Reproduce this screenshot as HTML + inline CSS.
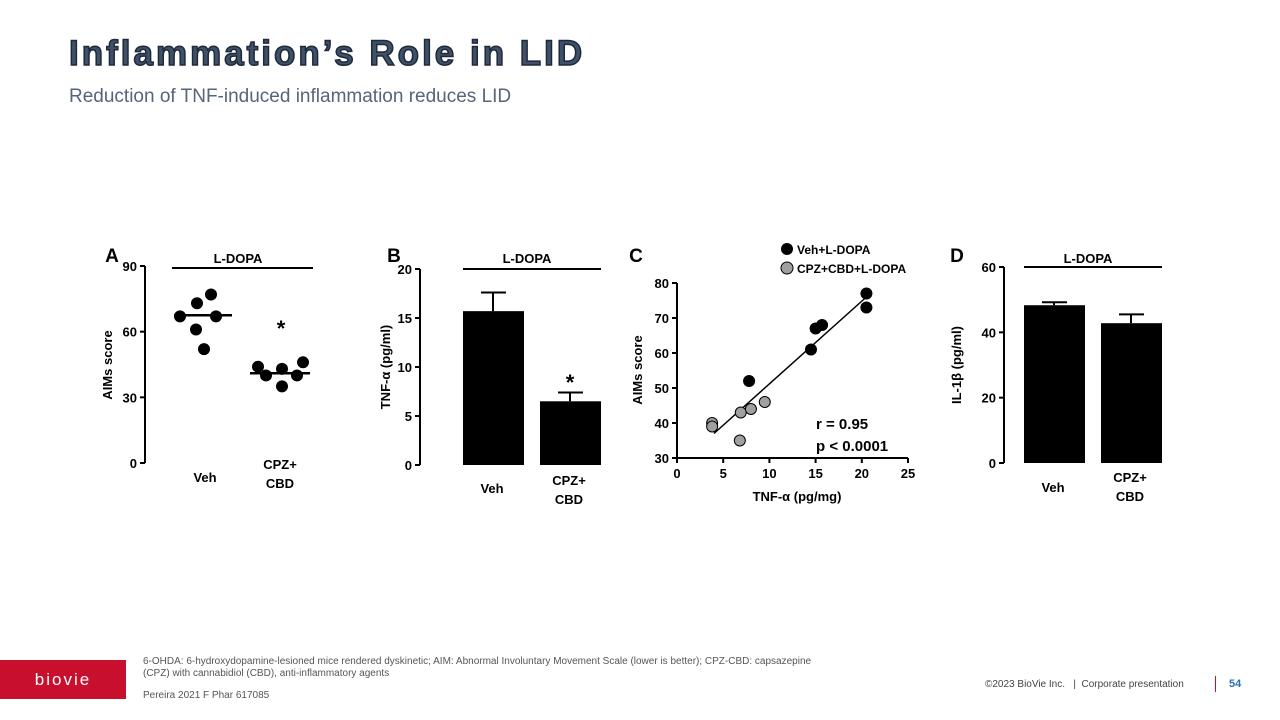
<!DOCTYPE html>
<html><head><meta charset="utf-8"><style>
body{margin:0;width:1280px;height:720px;background:#fff;font-family:"Liberation Sans",sans-serif;overflow:hidden;position:relative}
.t{position:absolute}
svg text{font-family:"Liberation Sans",sans-serif;font-weight:bold;fill:#000}
</style></head><body>
<div class="t" style="left:69px;top:34px;font-size:35px;font-weight:900;color:#3f5068;-webkit-text-stroke:1.5px #1e2a3a;letter-spacing:3px">Inflammation’s Role in LID</div>
<div class="t" style="left:69px;top:86px;font-size:19px;color:#55657a">Reduction of TNF-induced inflammation reduces LID</div>
<svg id="chart" width="1280" height="720" style="position:absolute;left:0;top:0"></svg>
<div class="t" style="left:0;top:660px;width:126px;height:39px;background:#c8102e;color:#fff;font-size:17px;line-height:39px;text-align:center;letter-spacing:2px">biovie</div>
<div class="t" style="left:143px;top:656px;font-size:10px;color:#555;line-height:12px;width:740px">6-OHDA: 6-hydroxydopamine-lesioned mice rendered dyskinetic; AIM: Abnormal Involuntary Movement Scale (lower is better); CPZ-CBD: capsazepine<br>(CPZ) with cannabidiol (CBD), anti-inflammatory agents</div>
<div class="t" style="left:143px;top:690px;font-size:10px;color:#555">Pereira 2021 F Phar 617085</div>
<div class="t" style="left:985px;top:679px;font-size:10px;color:#444">©2023 BioVie Inc. &nbsp; | &nbsp;Corporate presentation</div>
<div class="t" style="left:1215px;top:676px;width:1px;height:16px;background:#c8102e"></div>
<div class="t" style="left:1229px;top:678px;font-size:11px;font-weight:bold;color:#2a6fb5">54</div>
<script>
const aGroups=['Veh','CPZ+CBD'];
const aVeh=[67,73,77,67,61,52];
const aCpz=[44,40,43,35,40,46];
const aMedian=[67.5,41];
const aTicks=[0,30,60,90];
const bMeans=[15.7,6.5];
const bErr=[1.9,0.9];
const bTicks=[0,5,10,15,20];
const cVehX=[20.5,20.5,15,15.7,14.5,7.8];
const cVehY=[77,73,67,68,61,52];
const cCpzX=[3.8,3.8,6.9,8,9.5,6.8];
const cCpzY=[40,39,43,44,46,35];
const cFit=[[4,37],[20.5,76]];
const cXTicks=[0,5,10,15,20,25];
const cYTicks=[30,40,50,60,70,80];
const dMeans=[48.3,42.8];
const dErr=[0.9,2.7];
const dTicks=[0,20,40,60];
const svg=document.getElementById('chart');
const NS='http://www.w3.org/2000/svg';
function mk(t,a,txt){const e=document.createElementNS(NS,t);for(const k in a)e.setAttribute(k,a[k]);if(txt!==undefined)e.textContent=txt;svg.appendChild(e);return e;}
function line(x1,y1,x2,y2,w){return mk('line',{x1,y1,x2,y2,stroke:'#000','stroke-width':w||2});}
function txt(x,y,s,size,anchor){return mk('text',{x,y,'font-size':size||13,'text-anchor':anchor||'middle'},s);}
function yAxis(x,y0,y1,vmax,ticks){const sc=v=>y0-(v/vmax)*(y0-y1);line(x,y0,x,y1);ticks.forEach(t=>{line(x-5,sc(t),x,sc(t));const e=txt(x-8,sc(t)+5,String(t),13,'end');});return sc;}
// Panel A
let e=txt(112,262,'A',19);
const ya=yAxis(145,463,266,90,aTicks);
e=txt(112,365,'AIMs score',13);e.setAttribute('transform','rotate(-90 112 365)');
line(172,268,313,268);txt(238,263,'L-DOPA',13);
const aX=[[180,197,211,216,196,204],[258,266,282,282,297,303]];
[aVeh,aCpz].forEach((arr,g)=>arr.forEach((v,i)=>{const c=mk('circle',{cx:aX[g][i],cy:ya(v),r:6,fill:'#000'});}));
line(174,ya(aMedian[0]),232,ya(aMedian[0]),2.5);line(250,ya(aMedian[1]),310,ya(aMedian[1]),2.5);
txt(281,336,'*',22);
txt(205,482,'Veh');txt(280,469,'CPZ+');txt(280,488,'CBD');
// Panel B
e=txt(394,262,'B',19);
const yb=yAxis(420,465,269,20,bTicks);
e=txt(390,367,'TNF-α (pg/ml)',13);e.setAttribute('transform','rotate(-90 390 367)');
line(463,269,601,269);txt(527,263,'L-DOPA',13);
const bX=[463,540];
bMeans.forEach((m,i)=>{const r=mk('rect',{x:bX[i],y:yb(m),width:61,height:465-yb(m),fill:'#000'});line(bX[i]+30,yb(m),bX[i]+30,yb(m+bErr[i]));line(bX[i]+18,yb(m+bErr[i]),bX[i]+43,yb(m+bErr[i]));});
txt(570,390,'*',22);
txt(492,493,'Veh');txt(569,485,'CPZ+');txt(569,504,'CBD');
// Panel C
e=txt(636,262,'C',19);
const xc=v=>677+v*9.24;const yc=v=>458-(v-30)*3.5;
line(677,458,908,458);line(677,458,677,283);
cXTicks.forEach(t=>{line(xc(t),458,xc(t),463);txt(xc(t),478,String(t));});
cYTicks.forEach(t=>{line(672,yc(t),677,yc(t));txt(669,yc(t)+5,String(t),13,'end');});
e=txt(642,370,'AIMs score',13);e.setAttribute('transform','rotate(-90 642 370)');
txt(797,501,'TNF-α (pg/mg)');
line(xc(cFit[0][0]),yc(cFit[0][1]),xc(cFit[1][0]),yc(cFit[1][1]),1.5);
cCpzX.forEach((x,i)=>{const c=mk('circle',{cx:xc(x),cy:yc(cCpzY[i]),r:5.5,fill:'#a0a0a0',stroke:'#000','stroke-width':1});});
cVehX.forEach((x,i)=>{const c=mk('circle',{cx:xc(x),cy:yc(cVehY[i]),r:6,fill:'#000'});});
mk('circle',{cx:787,cy:249,r:6,fill:'#000'});txt(797,254,'Veh+L-DOPA',12,'start');
mk('circle',{cx:787,cy:268,r:6,fill:'#a0a0a0',stroke:'#000','stroke-width':1});txt(797,273,'CPZ+CBD+L-DOPA',12,'start');
txt(816,429,'r = 0.95',15,'start');txt(816,451,'p < 0.0001',15,'start');
// Panel D
e=txt(957,262,'D',19);
const yd=yAxis(1004,463,267,60,dTicks);
e=txt(961,365,'IL-1β (pg/ml)',13);e.setAttribute('transform','rotate(-90 961 365)');
line(1024,267,1162,267);txt(1088,263,'L-DOPA',13);
const dX=[1024,1101];
dMeans.forEach((m,i)=>{const r=mk('rect',{x:dX[i],y:yd(m),width:61,height:463-yd(m),fill:'#000'});line(dX[i]+30,yd(m),dX[i]+30,yd(m+dErr[i]));line(dX[i]+18,yd(m+dErr[i]),dX[i]+43,yd(m+dErr[i]));});
txt(1053,492,'Veh');txt(1130,482,'CPZ+');txt(1130,501,'CBD');
</script>
</body></html>
